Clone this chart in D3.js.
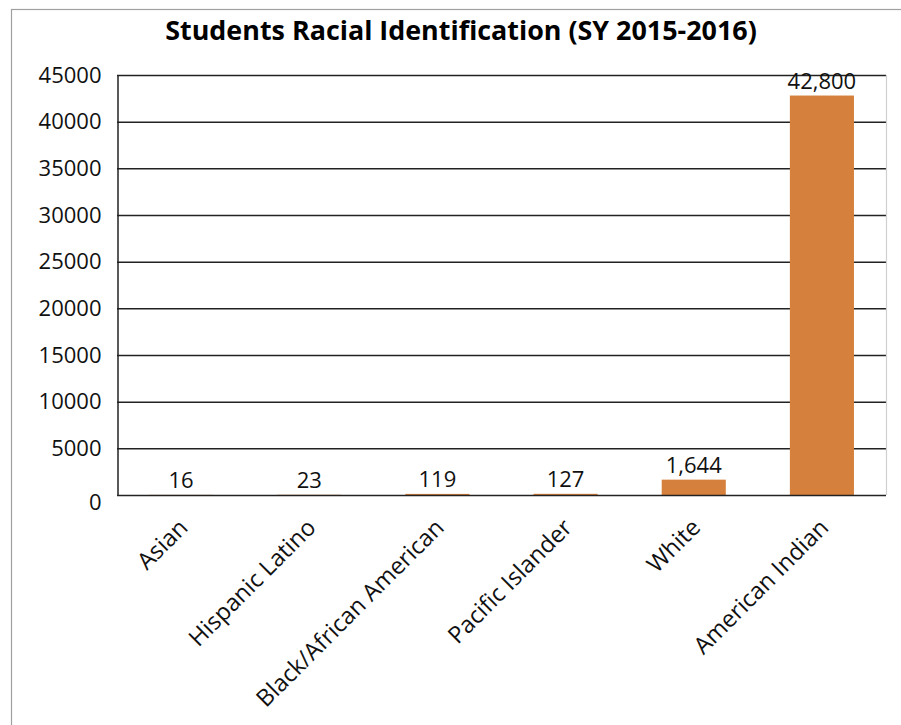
<!DOCTYPE html>
<html><head><meta charset="utf-8">
<script src="https://cdn.jsdelivr.net/npm/d3@7"></script>
<style>body{margin:0;background:#fff;} svg{display:block;}</style>
</head><body>
<svg id="chart" width="901" height="725"></svg>
<script>
const categories = ["Asian","Hispanic Latino","Black/African American","Pacific Islander","White","American Indian"];
const values = [16,23,119,127,1644,42800];
const valueLabels = ["16","23","119","127","1,644","42,800"];
const yTicks = [0,5000,10000,15000,20000,25000,30000,35000,40000,45000];
const title = "Students Racial Identification (SY 2015-2016)";

const svg = d3.select("#chart");
const font = "'Open Sans', 'Liberation Sans', sans-serif";
const m = {left:117, right:886, top:75, bottom:495};

svg.append("rect").attr("x",11.5).attr("y",9.5).attr("width",1000).attr("height",1000)
  .attr("fill","#fff").attr("stroke","#a0a0a0").attr("stroke-width",1.2);

const x = d3.scaleBand().domain(categories).range([m.left,m.right]).paddingInner(0.5).paddingOuter(0.25);
const y = d3.scaleLinear().domain([0,45000]).range([m.bottom,m.top]);

// gridlines
svg.append("g").selectAll("line").data(yTicks.filter(d=>d>0)).join("line")
  .attr("x1",m.left).attr("x2",m.right).attr("y1",d=>y(d)+0.5).attr("y2",d=>y(d)+0.5)
  .attr("stroke","#222").attr("stroke-width",1.5);
// right border of plot
svg.append("line").attr("x1",m.right+0.5).attr("x2",m.right+0.5).attr("y1",m.top).attr("y2",m.bottom)
  .attr("stroke","#d0d0d0").attr("stroke-width",1.2);

// bars
svg.append("g").selectAll("rect").data(values).join("rect")
  .attr("x",(d,i)=>x(categories[i])).attr("width",x.bandwidth())
  .attr("y",d=>y(d)).attr("height",d=>y(0)-y(d)).attr("fill","#d5803c");

// y axis
const yAxis = d3.axisLeft(y).tickValues(yTicks).tickSize(0).tickPadding(16).tickFormat(d=>String(d));
const ya = svg.append("g").attr("transform",`translate(${m.left+0.5},0)`).call(yAxis);
ya.select(".domain").attr("stroke","#222").attr("stroke-width",1.5);
ya.selectAll("text").attr("font-family",font).attr("font-size",22).attr("fill","#111").attr("dy","0.32em");
ya.selectAll(".tick").filter(d=>d===0).select("text").attr("dy","0.65em");

// x axis line
svg.append("line").attr("x1",m.left).attr("x2",m.right).attr("y1",m.bottom+0.5).attr("y2",m.bottom+0.5)
  .attr("stroke","#222").attr("stroke-width",1.5);

// x labels
const xa = svg.append("g").attr("transform",`translate(0,${m.bottom})`)
  .call(d3.axisBottom(x).tickSize(0).tickPadding(0));
xa.select(".domain").remove();
xa.selectAll("text").attr("font-family",font).attr("font-size",23.5).attr("fill","#111")
  .attr("text-anchor","end").attr("dy",0).attr("y",0)
  .attr("transform","translate(8,34) rotate(-45)");

// value labels
svg.append("g").selectAll("text").data(values).join("text")
  .attr("x",(d,i)=>x(categories[i])+x.bandwidth()/2).attr("y",d=>y(d)-7)
  .attr("text-anchor","middle").attr("font-family",font).attr("font-size",22).attr("fill","#111")
  .text((d,i)=>valueLabels[i]);

// title
const t = svg.append("text").attr("x",461).attr("y",40).attr("text-anchor","middle")
  .attr("font-family",font).attr("font-weight","bold").attr("font-size",24).attr("fill","#000").text(title);
const w = t.node().getComputedTextLength();
t.attr("font-size",24*592/w);
</script>
</body></html>
